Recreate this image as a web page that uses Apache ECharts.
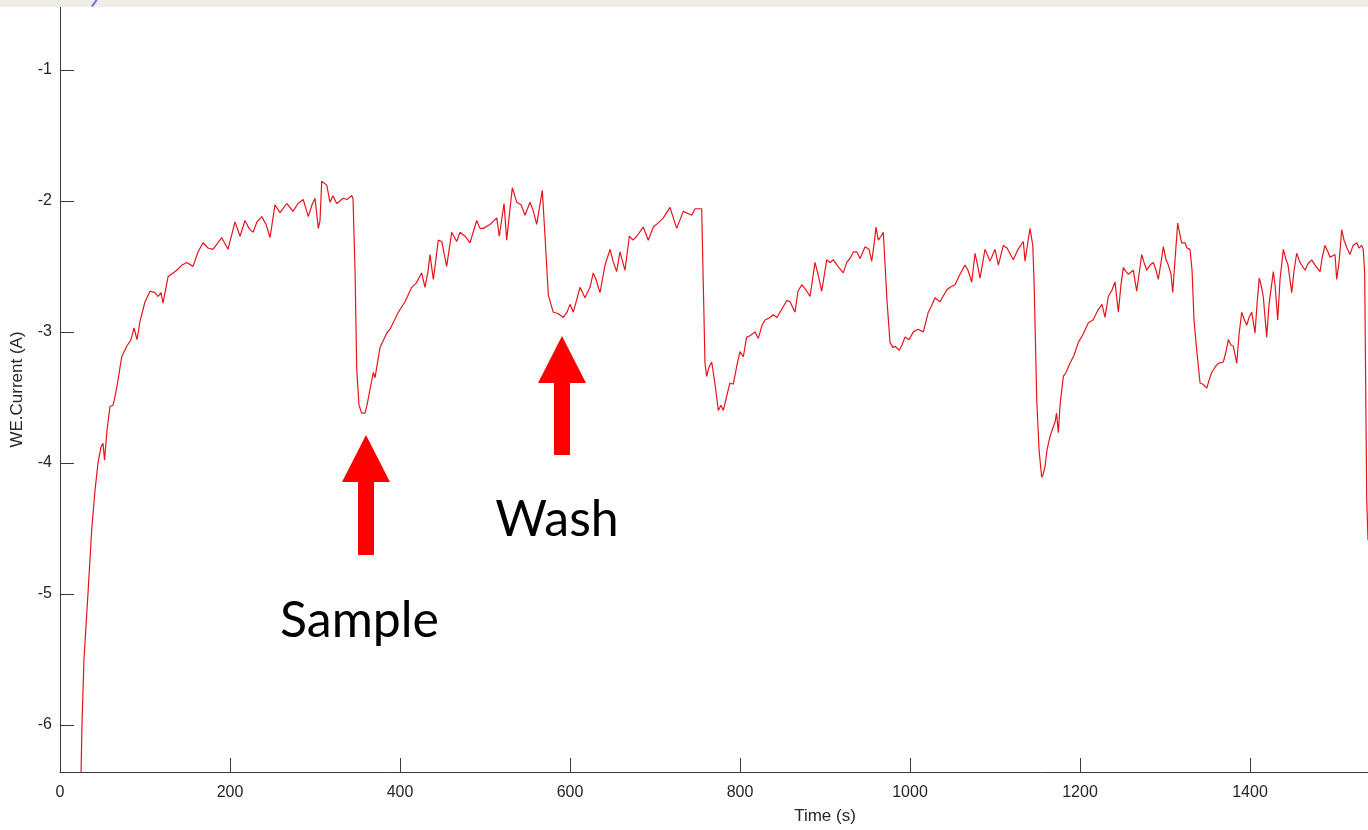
<!DOCTYPE html>
<html><head><meta charset="utf-8">
<script src="https://cdn.jsdelivr.net/npm/echarts@6/dist/echarts.min.js"></script>
<style>html,body{margin:0;padding:0;background:#fff}#c{width:1368px;height:830px}</style>
</head><body><div id="c"></div>
<script>
const timeS = [
24.5,25.9,28.2,32.9,37.3,41.2,44.7,48.2,50.6,52.4,
55.3,58.8,62.4,65.5,68.2,72.6,78.5,83.5,87.1,90.6,
94.1,100,105.9,111.8,115.3,118.8,121.2,127.1,137.3,143.5,
149.1,156.5,162.4,168.2,174.1,180,190.2,197.6,205.9,211.8,
217.6,222.4,227.1,231.8,237.3,242.4,247.1,252.9,258.8,266.7,
270.6,274.1,280,286.2,292.1,296.5,300,303.9,305.9,307.9,
313.8,317.6,321.2,325.5,333.3,337.6,343.2,344.7,347.1,349.1,
351.8,354.9,358.8,361.2,364.7,368.6,370.6,376.5,384.4,388.2,
398,405.9,413.8,418.8,425.5,429.4,432.9,435.3,439.2,445.1,
449.1,454.9,460.8,466.7,470.6,476.5,482.4,490.2,494.1,498,
505.9,513.8,516.8,522.4,525.5,532.1,537.3,542.4,547.1,552.9,
556.5,560.8,567.4,570.6,574.5,577.6,580.4,585.9,592.1,596.5,
600,603.9,611.8,617.6,623.5,627.4,630.6,635.3,641.2,647.1,
650.6,654.9,658.8,664.7,669.8,674.1,678.5,686.2,692.1,698,
703.5,709.8,717.6,725.5,733.3,743.2,747.1,754.9,758.8,760.8,
763.5,766.7,770.6,774.5,777.6,780.4,784.7,788.2,792.1,796.5,
800,803.9,807.8,811.8,817.6,821.5,825.9,829.4,835.3,839.2,
843.5,847.1,855,858.8,864.7,868.2,872.6,877.6,882.4,888.2,
891.8,896.1,902,905.9,909.8,915.3,921.5,925.5,929.4,933.3,
937.6,941.2,947.1,951.8,954.9,957.6,960,962.7,965.9,968.6,
972.9,976.5,980,982.4,987.4,990.6,994.1,998.8,1003.9,1009.4,
1015.6,1021.5,1024.7,1029.4,1035.3,1038.8,1043.2,1047.1,1052.9,1058.8,
1064.7,1068.2,1072.6,1076.5,1078.8,1082.4,1088.2,1094.1,1100,1103.9,
1109.8,1114.1,1121.5,1127.1,1133.3,1135.3,1137.6,1141.2,1144.4,1145.9,
1149.1,1151.8,1154.9,1156.5,1158.8,1161.2,1164.7,1168.2,1170.6,1172.4,
1174.5,1176.5,1180.4,1183.5,1188.2,1192.9,1198,1203.5,1209.8,1215.3,
1221.5,1225.9,1229.4,1233.3,1237.6,1241.2,1245.1,1248.2,1251,1254.1,
1256.8,1262.7,1266.7,1269.4,1272.6,1275.3,1278.5,1282.4,1286.2,1289.4,
1292.1,1295.3,1298,1301.2,1303.9,1307.1,1309.1,1311.8,1314.9,1317.6,
1319.6,1323.5,1325.9,1329.4,1331.8,1334.1,1337.3,1341.2,1344.7,1349.1,
1351.8,1354.9,1358.8,1362.7,1368.6,1371.8,1374.5,1377.6,1380.4,1384.4,
1387.1,1390.2,1392.9,1396.1,1398.8,1402,1405.9,1408.2,1410.9,1412.9,
1415.6,1419.6,1422.4,1427.4,1429.4,1432.6,1435.3,1439.2,1442.4,1444.7,
1449.1,1451.8,1454.9,1458.8,1464.7,1468.2,1472.6,1476.5,1482.4,1484.7,
1488.2,1491.8,1494.1,1500,1502,1504.7,1507.9,1510.6,1514.1,1517.6,
1521.2,1525.5,1528.2,1531.4,
1533.2,1534.9,1537.3,1538.8
];
const currentA = [
-6.45,-5.99,-5.50,-5.00,-4.51,-4.21,-4.00,-3.88,-3.85,-3.98,
-3.75,-3.57,-3.56,-3.47,-3.37,-3.19,-3.11,-3.06,-2.97,-3.06,
-2.92,-2.77,-2.69,-2.70,-2.73,-2.70,-2.78,-2.58,-2.53,-2.49,
-2.47,-2.50,-2.39,-2.32,-2.36,-2.37,-2.28,-2.37,-2.16,-2.27,
-2.15,-2.21,-2.24,-2.16,-2.12,-2.18,-2.28,-2.03,-2.09,-2.02,
-2.05,-2.08,-2.02,-1.99,-2.12,-2.03,-1.98,-2.21,-2.15,-1.85,
-1.88,-2.01,-1.96,-2.02,-1.98,-1.99,-1.96,-1.98,-2.53,-3.29,
-3.56,-3.62,-3.62,-3.56,-3.44,-3.31,-3.35,-3.12,-3.01,-2.98,
-2.85,-2.77,-2.66,-2.63,-2.55,-2.66,-2.54,-2.41,-2.60,-2.30,
-2.31,-2.50,-2.24,-2.31,-2.24,-2.27,-2.32,-2.15,-2.21,-2.21,
-2.18,-2.13,-2.27,-2.02,-2.30,-1.90,-2.01,-2.03,-2.11,-2.01,
-2.07,-2.18,-1.92,-2.27,-2.72,-2.79,-2.85,-2.86,-2.89,-2.85,
-2.79,-2.85,-2.66,-2.74,-2.66,-2.55,-2.60,-2.70,-2.49,-2.37,
-2.46,-2.54,-2.39,-2.53,-2.27,-2.30,-2.27,-2.20,-2.30,-2.20,
-2.17,-2.13,-2.05,-2.21,-2.08,-2.11,-2.06,-2.06,-3.24,-3.34,
-3.27,-3.23,-3.40,-3.60,-3.56,-3.60,-3.48,-3.39,-3.40,-3.25,
-3.15,-3.19,-3.04,-3.03,-3.00,-3.05,-2.95,-2.91,-2.89,-2.87,
-2.89,-2.85,-2.76,-2.77,-2.85,-2.69,-2.64,-2.68,-2.73,-2.47,
-2.56,-2.69,-2.45,-2.47,-2.45,-2.50,-2.55,-2.47,-2.44,-2.39,
-2.39,-2.44,-2.35,-2.37,-2.46,-2.34,-2.20,-2.30,-2.27,-2.24,
-2.76,-3.08,-3.12,-3.11,-3.14,-3.10,-3.04,-3.06,-3.00,-2.98,
-3.00,-2.85,-2.81,-2.74,-2.77,-2.73,-2.68,-2.66,-2.64,-2.56,
-2.49,-2.53,-2.62,-2.40,-2.47,-2.59,-2.37,-2.46,-2.37,-2.49,
-2.34,-2.36,-2.45,-2.37,-2.31,-2.46,-2.36,-2.21,-2.34,-2.60,
-3.52,-3.90,-4.11,-4.09,-4.03,-3.90,-3.80,-3.73,-3.69,-3.62,
-3.77,-3.56,-3.34,-3.31,-3.24,-3.18,-3.08,-3.02,-2.93,-2.91,
-2.83,-2.79,-2.89,-2.73,-2.68,-2.62,-2.85,-2.64,-2.51,-2.54,
-2.56,-2.53,-2.69,-2.56,-2.41,-2.47,-2.53,-2.49,-2.47,-2.53,
-2.60,-2.47,-2.35,-2.45,-2.49,-2.56,-2.70,-2.45,-2.17,-2.26,
-2.32,-2.32,-2.36,-2.37,-2.53,-2.91,-3.14,-3.39,-3.40,-3.43,
-3.37,-3.31,-3.27,-3.24,-3.23,-3.15,-3.06,-3.10,-3.11,-3.24,
-3.02,-2.85,-2.90,-2.95,-2.89,-2.85,-3.01,-2.79,-2.59,-2.64,
-2.73,-3.04,-2.79,-2.54,-2.64,-2.91,-2.60,-2.37,-2.45,-2.49,
-2.70,-2.53,-2.40,-2.47,-2.53,-2.48,-2.45,-2.49,-2.54,-2.44,
-2.34,-2.39,-2.43,-2.41,-2.60,-2.47,-2.22,-2.30,-2.36,-2.41,
-2.34,-2.32,-2.36,-2.34,
-2.37,-2.55,-4.28,-4.59
];
const xTickLabels = [0,200,400,600,800,1000,1200,1400];
const xTicks = [200,400,600,800,1000,1200,1400];
const yTicks = [-6,-5,-4,-3,-2,-1];
const annotations = ['Sample','Wash'];

const points = timeS.map((t,i)=>[t,currentA[i]]);
const axisColor = '#3a3a3a';
const textColor = '#262626';
const font = 'Liberation Sans, Arial, sans-serif';

const chart = echarts.init(document.getElementById('c'), null, {renderer:'canvas'});
chart.setOption({
  animation:false,
  backgroundColor:'#ffffff',
  grid:{left:60, top:7, right:0, bottom:58, containLabel:false, outerBoundsMode:'none'},
  xAxis:{
    type:'value', min:0, max:1538.8,
    name:'Time (s)', nameLocation:'middle', nameGap:36,
    nameTextStyle:{color:textColor, fontFamily:font, fontSize:17, padding:[0,0,0,222]},
    axisLine:{show:true, onZero:false, lineStyle:{color:axisColor, width:1}},
    axisTick:{show:true, inside:true, length:14, customValues:xTicks, lineStyle:{color:axisColor}},
    axisLabel:{customValues:xTickLabels, formatter:v=>String(v), color:textColor, fontFamily:font, fontSize:16, margin:13},
    splitLine:{show:false}
  },
  yAxis:{
    type:'value', min:-6.36, max:-0.52,
    name:'WE.Current (A)', nameLocation:'middle', nameGap:34, nameRotate:90,
    nameTextStyle:{color:textColor, fontFamily:font, fontSize:17},
    axisLine:{show:true, onZero:false, lineStyle:{color:axisColor, width:1}},
    axisTick:{show:true, inside:true, length:14, customValues:yTicks, lineStyle:{color:axisColor}},
    axisLabel:{customValues:yTicks, formatter:v=>String(v), color:textColor, fontFamily:font, fontSize:16, margin:8},
    splitLine:{show:false}
  },
  series:[{
    type:'line', data:points, showSymbol:false, symbol:'none', clip:true,
    lineStyle:{color:'#e8141c', width:1.2}
  }],
  graphic:[
    {type:'rect', shape:{x:0,y:0,width:1368,height:7}, style:{fill:'#f1ede6'}, z:100},
    {type:'line', shape:{x1:96.7,y1:0,x2:91.8,y2:6.5}, style:{stroke:'#6b6bf2', lineWidth:2}, z:101},
    {type:'polygon', shape:{points:[[366,435],[390,482],[374,482],[374,555],[358,555],[358,482],[342,482]]}, style:{fill:'#ff0000'}, z:50},
    {type:'polygon', shape:{points:[[562,336],[586,383],[570,383],[570,455],[554,455],[554,383],[538,383]]}, style:{fill:'#ff0000'}, z:50},
    {type:'text', x:359.5, y:621, style:{text:annotations[0], fill:'#000', font:'50px Lato, "Open Sans", sans-serif', align:'center', verticalAlign:'middle'}, z:50},
    {type:'text', x:557, y:520, style:{text:annotations[1], fill:'#000', font:'50px Lato, "Open Sans", sans-serif', align:'center', verticalAlign:'middle'}, z:50}
  ]
});
</script></body></html>
